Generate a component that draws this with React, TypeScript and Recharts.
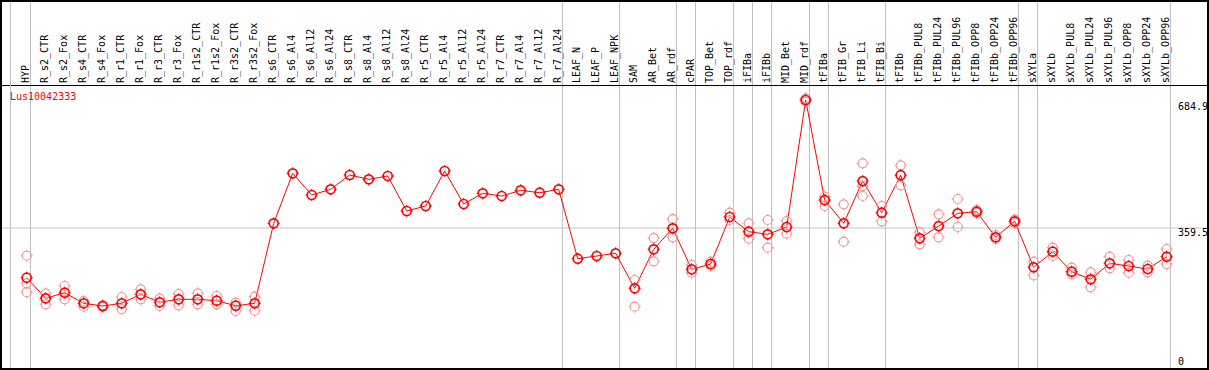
import React from "react";
import { LineChart, Line, XAxis, YAxis, ReferenceLine } from "recharts";

const labels = [
  "HYP", "R_s2_CTR", "R_s2_Fox", "R_s4_CTR", "R_s4_Fox", "R_r1_CTR", "R_r1_Fox", "R_r3_CTR", "R_r3_Fox",
  "R_r1s2_CTR", "R_r1s2_Fox", "R_r3s2_CTR", "R_r3s2_Fox",
  "R_s6_CTR", "R_s6_Al4", "R_s6_Al12", "R_s6_Al24", "R_s8_CTR", "R_s8_Al4", "R_s8_Al12", "R_s8_Al24",
  "R_r5_CTR", "R_r5_Al4", "R_r5_Al12", "R_r5_Al24", "R_r7_CTR", "R_r7_Al4", "R_r7_Al12", "R_r7_Al24",
  "LEAF_N", "LEAF_P", "LEAF_NPK", "SAM", "AR_Bet", "AR_rdf", "cPAR", "TOP_Bet", "TOP_rdf",
  "iFIBa", "iFIBb", "MID_Bet", "MID_rdf", "tFIBa", "tFIB_Gr", "tFIB_Li", "tFIB_Bi",
  "tFIBb", "tFIBb_PUL8", "tFIBb_PUL24", "tFIBb_PUL96", "tFIBb_OPP8", "tFIBb_OPP24", "tFIBb_OPP96",
  "sXYLa", "sXYLb", "sXYLb_PUL8", "sXYLb_PUL24", "sXYLb_PUL96", "sXYLb_OPP8", "sXYLb_OPP24", "sXYLb_OPP96",
];

// mean expression per sample
const means = [
  233.1, 180.8, 195.0, 168.0, 161.2, 168.0, 190.9, 170.6, 178.2, 178.2, 174.6, 161.9, 168.0,
  371.4, 498.5, 443.4, 457.8, 494.2, 483.3, 491.7, 402.7, 415.4, 504.4, 420.5, 447.7, 440.8, 455.3, 449.2, 457.8,
  281.4, 288.3, 295.2, 206.2, 305.3, 358.7, 254.5, 267.9, 387.4,
  350.1, 343.4, 362.0, 684.9, 430.6, 371.4, 478.9, 398.4,
  493.7, 333.3, 364.5, 396.8, 400.9, 335.8, 376.5,
  259.6, 299.2, 248.4, 229.1, 269.7, 262.9, 255.2, 286.5,
];

// replicates (null = no replicate shown)
const repHi = [
  289.0, 193.5, 212.0, 173.9, 163.0, 184.1, 203.6, 180.8, 191.7, 193.5, 186.6, 169.6, 184.8,
  null, null, null, null, null, null, null, null, null, null, null, null, null, null, null, null,
  null, null, null, 227.3, 334.0, 382.3, 265.4, 273.8, 398.4,
  371.4, 379.8, 377.3, 689.2, 439.0, 419.7, 524.0, 415.4,
  518.9, 348.5, 394.3, 433.2, 405.2, 341.7, 381.0,
  273.8, 309.4, 258.5, 246.8, 286.5, 278.1, 263.6, 306.1,
];

const repLo = [
  196.3, 165.5, 178.2, 159.4, 159.0, 153.5, 178.2, 161.2, 163.0, 165.5, 165.5, 148.5, 149.2,
  null, null, null, null, null, null, null, null, null, null, null, null, null, null, null, null,
  null, null, null, 159.4, 274.8, 335.8, 245.8, 262.9, 379.8,
  332.3, 309.4, 345.0, 680.5, 415.4, 324.6, 440.8, 376.5,
  468.0, 318.0, 335.8, 362.0, 397.6, 331.5, 372.0,
  239.2, 288.3, 241.8, 208.7, 257.0, 245.8, 246.8, 267.9,
];

const repMid: (number | null)[] = labels.map(() => null);
repMid[0] = 218.9;
repMid[44] = 466.2;

const yTicks = [0, 359.5, 684.9];
const Y_MAX = 936.6;
// group separators, in 1-based sample positions (just right of the last sample of a group)
const separators = [1.2, 29.2, 32.2, 35.2, 36.2, 38.2, 39.2, 40.2, 42.2, 43.2, 46.2, 53.2, 54.2, 61.2];

const data = labels.map((label, i) => ({
  n: i + 1,
  label,
  mean: means[i],
  hi: repHi[i],
  lo: repLo[i],
  mid: repMid[i],
}));

const FONT = "'DejaVu Sans Mono', monospace";

function HeaderTick(props: any) {
  const { x, payload, index } = props;
  return (
    <text
      key={`h-${index}`}
      transform={`translate(${x + 2},83) rotate(-90)`}
      fontSize={10}
      fontFamily={FONT}
      fill="#000"
    >
      {labels[payload.value - 1]}
    </text>
  );
}

function YTick(props: any) {
  const { y, payload, index } = props;
  const v = payload.value;
  const dy = v === 0 ? -4 : v === 359.5 ? 8 : 10;
  return (
    <text key={`y-${index}`} x={1178} y={y + dy} fontSize={10} fontFamily={FONT} fill="#000">
      {v === 0 ? "0" : v.toFixed(1)}
    </text>
  );
}

function marker(color: string, width: number, name: string) {
  return (props: any) => {
    const { cx, cy, value, index } = props;
    if (value == null || cy == null || isNaN(cy)) return <g key={`${name}-e-${index}`} />;
    const r = 4.5;
    const t = 1.6;
    return (
      <g key={`${name}-${index}`}>
        <circle cx={cx} cy={cy} r={r} fill="none" stroke={color} strokeWidth={width} />
        <path
          d={`M${cx},${cy - r - t}V${cy - r} M${cx},${cy + r}V${cy + r + t} M${cx - r - t},${cy}H${cx - r} M${cx + r},${cy}H${cx + r + t}`}
          stroke={color}
          strokeWidth={1}
        />
      </g>
    );
  };
}

const repDot = marker("#ee9999", 1.2, "r");
const meanDot = marker("#ff0000", 1.7, "m");

export default function App() {
  return (
    <div style={{ position: "absolute", left: 0, top: 0, width: 1209, height: 370, background: "#fff" }}>
      <LineChart width={1209} height={370} data={data} margin={{ top: 0, right: 0, bottom: 0.6, left: 0 }}>
        <XAxis
          dataKey="n"
          type="number"
          domain={[-0.4053, 63.174]}
          ticks={labels.map((_, i) => i + 1)}
          interval={0}
          orientation="top"
          height={1}
          tick={HeaderTick}
          tickLine={false}
          axisLine={false}
          allowDataOverflow
        />
        <YAxis
          type="number"
          domain={[0, Y_MAX]}
          ticks={yTicks}
          interval={0}
          orientation="right"
          width={1}
          tick={YTick}
          tickLine={false}
          axisLine={false}
          allowDataOverflow
        />
        <ReferenceLine y={359.5} stroke="#c4c4c4" strokeWidth={1} />
        {separators.map((s) => (
          <ReferenceLine key={`sep-${s}`} x={s} stroke="#c0c0c0" strokeWidth={1} ifOverflow="visible" />
        ))}
        <ReferenceLine y={721.7} stroke="#000" strokeWidth={1} />
        <Line dataKey="hi" stroke="none" dot={repDot} activeDot={false} isAnimationActive={false} />
        <Line dataKey="lo" stroke="none" dot={repDot} activeDot={false} isAnimationActive={false} />
        <Line dataKey="mid" stroke="none" dot={repDot} activeDot={false} isAnimationActive={false} />
        <Line dataKey="mean" stroke="#ff0000" strokeWidth={1} dot={meanDot} activeDot={false} isAnimationActive={false} />
      </LineChart>
      {/* leading frame rule left of the first sample */}
      <div style={{ position: "absolute", left: 10, top: 0, width: 1, height: 370, background: "#c0c0c0" }} />
      <div
        style={{
          position: "absolute",
          left: 10,
          top: 92,
          fontSize: 10,
          lineHeight: "10px",
          fontFamily: FONT,
          color: "#ff0000",
        }}
      >
        Lus10042333
      </div>
      <div
        style={{
          position: "absolute",
          left: 0,
          top: 0,
          width: 1209,
          height: 370,
          border: "2px solid #000",
          boxSizing: "border-box",
          pointerEvents: "none",
        }}
      />
    </div>
  );
}
